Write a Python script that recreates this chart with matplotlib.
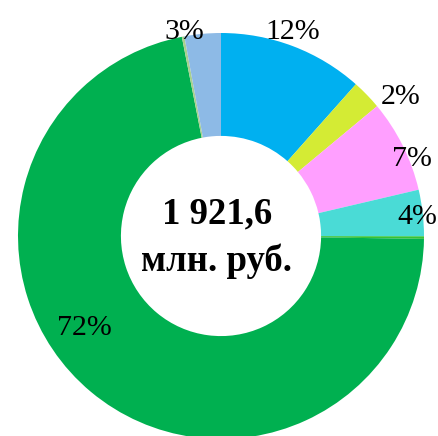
import matplotlib.pyplot as plt
import numpy as np

# shares of the total, %, clockwise from 12 o'clock
shares = [11.6, 2.4, 7.4, 3.7, 0.2, 71.9, 0.2, 2.9]
labels = ['12%', '2%', '7%', '4%', '', '72%', '', '3%']
colors = ['#00B0F0', '#D4EB34', '#FF9FFF', '#4ADBD6',
          '#36C336', '#00B050', '#A9D08E', '#8DBAE6']
total_text = '1 921,6\nмлн. руб.'

# label placement tweaks (degrees off the wedge middle, radius)
label_shift = [1.4, -6.2, -4.4, -1.0, 0, -16.1, 0, 5.0]
label_rad = [1.064, 1.118, 1.015, 0.97, 0, 0.81, 0, 1.02]

plt.rcParams['font.family'] = ['Liberation Serif', 'DejaVu Serif']

fig = plt.figure(figsize=(4.38, 4.36), dpi=100)
ax = fig.add_axes([0, 0, 1, 1])

wedges, _ = ax.pie(shares, colors=colors, startangle=90, counterclock=False,
                   radius=1.0,
                   wedgeprops=dict(width=0.507, linewidth=0))

total = sum(shares)
cum = np.cumsum([0] + shares[:-1])
for i, lab in enumerate(labels):
    if not lab:
        continue
    mid = 90 - (cum[i] + shares[i] / 2) / total * 360
    ang = np.deg2rad(mid + label_shift[i])
    r = label_rad[i]
    ax.text(r * np.cos(ang), r * np.sin(ang), lab, ha='center', va='center',
            fontsize=21.5, color='black')

ax.text(-0.02, -0.01, total_text, ha='center', va='center', fontsize=26.5,
        fontweight='bold', linespacing=1.45)

R = 203.0
ax.set_xlim(-221 / R, 217 / R)
ax.set_ylim(-200 / R, 236 / R)
ax.set_aspect('equal', adjustable='box')
ax.axis('off')

plt.savefig('out.png', dpi=100, facecolor='white')
